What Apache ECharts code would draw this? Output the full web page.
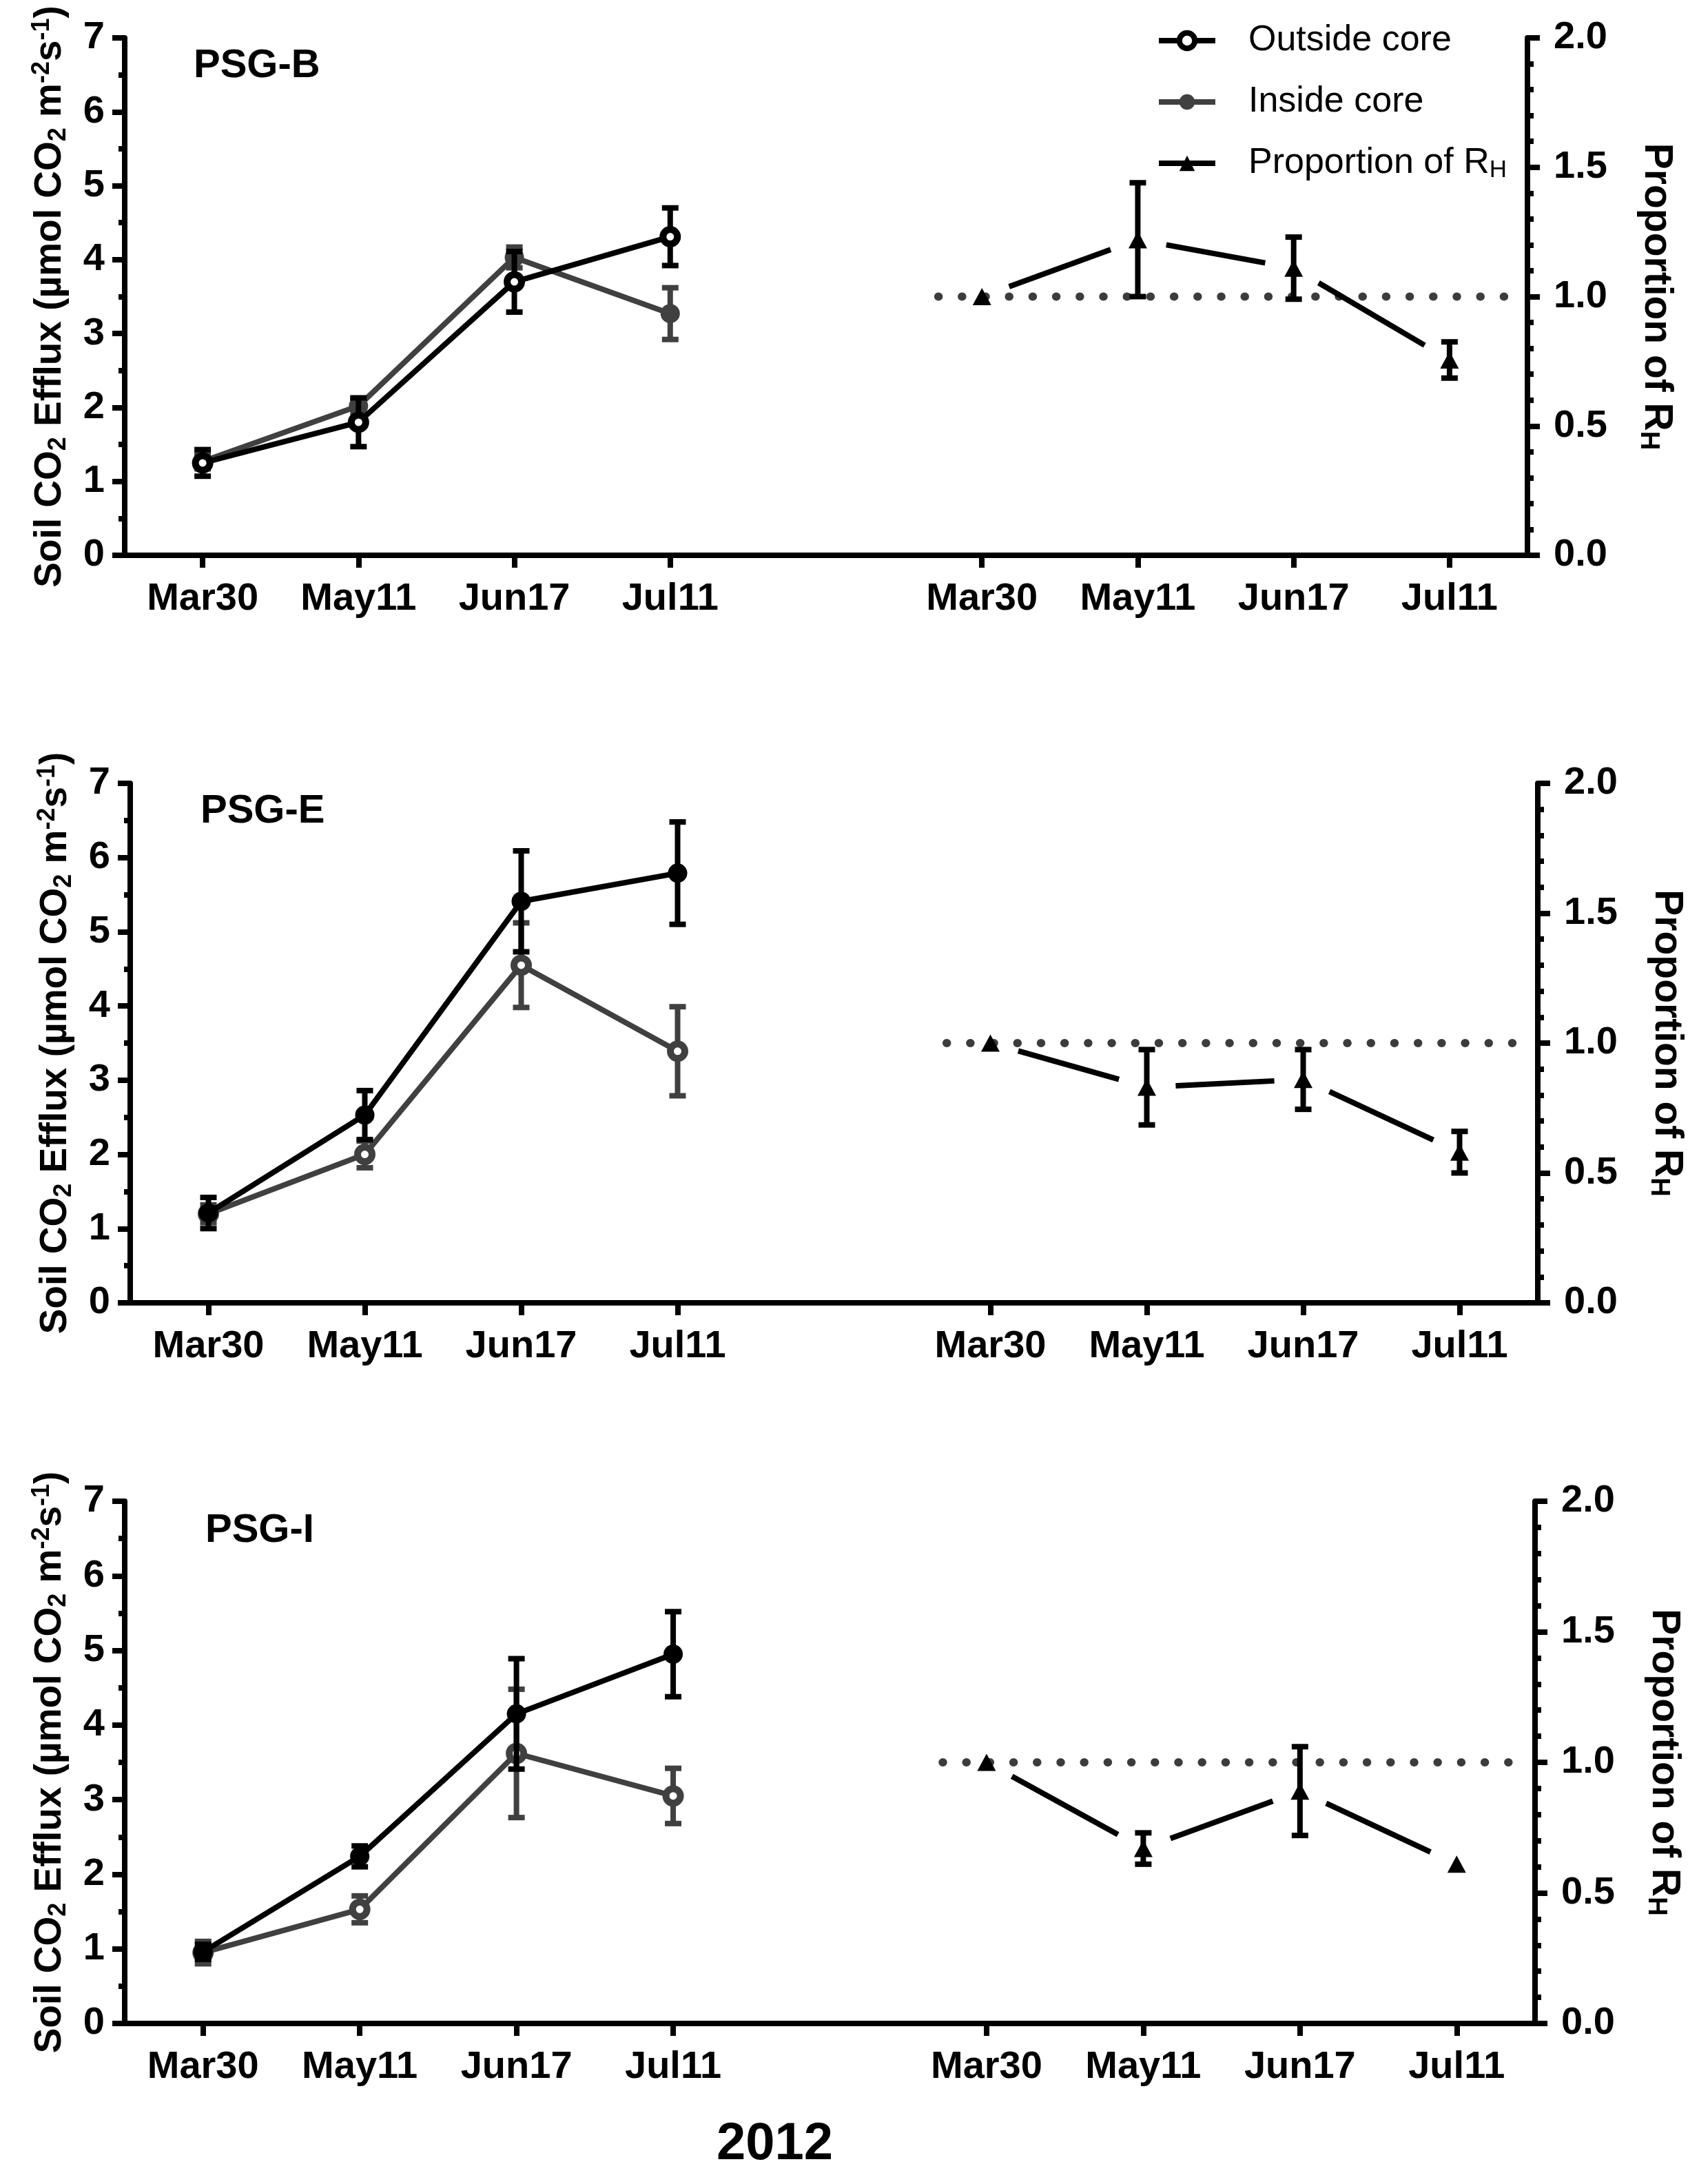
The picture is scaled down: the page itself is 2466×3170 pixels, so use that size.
<!DOCTYPE html>
<html><head><meta charset="utf-8">
<script src="https://cdn.jsdelivr.net/npm/echarts@6/dist/echarts.min.js"></script>
<style>html,body{margin:0;padding:0;background:#fff}#c{width:2466px;height:3170px}</style>
</head><body><div id="c"></div>
<script>
// ---------------- data ----------------
const categories = ['Mar30','May11','Jun17','Jul11','','Mar30','May11','Jun17','Jul11'];
const leftIdx = [0,1,2,3];
const rightIdx = [5,6,7,8];
const panelNames = ['PSG-B','PSG-E','PSG-I'];
const yearLabel = '2012';

const outsideB = [1.25, 1.80, 3.70, 4.31];
const outsideBErr = [0.18, 0.33, 0.41, 0.39];
const insideB = [1.27, 2.02, 4.03, 3.27];
const insideBErr = [0.10, 0.10, 0.14, 0.35];
const propB = [1.00, 1.22, 1.11, 0.755];
const propBErr = [0, 0.22, 0.12, 0.07];

const outsideE = [1.21, 2.53, 5.41, 5.79];
const outsideEErr = [0.21, 0.33, 0.68, 0.69];
const insideE = [1.20, 2.00, 4.55, 3.39];
const insideEErr = [0.12, 0.18, 0.57, 0.60];
const propE = [1.00, 0.83, 0.86, 0.58];
const propEErr = [0, 0.145, 0.115, 0.08];

const outsideI = [0.96, 2.24, 4.15, 4.95];
const outsideIErr = [0.10, 0.14, 0.74, 0.57];
const insideI = [0.95, 1.53, 3.62, 3.05];
const insideIErr = [0.15, 0.18, 0.86, 0.37];
const propI = [1.00, 0.67, 0.89, 0.61];
const propIErr = [0, 0.06, 0.17, 0];

const refLineX = [5.22, 8.89];   // extent of the reference line, in hidden 0..9 axis units
const refLineY = 1.0;

// ---------------- layout / style ----------------
const FONT = 'Liberation Sans, Arial, sans-serif';
const GRAY = '#404040';
const grids = [
  {left:181, top:55,   width:2036, height:751},
  {left:189, top:1137, width:2043, height:754},
  {left:181, top:2179, width:2047, height:758}
];
const titlePos = [{left:281, cy:96},{left:291, cy:1178},{left:298, cy:2222}];
// marker appearance per panel: [outsideOpen, insideOpen]
const markerOpen = [[true,false],[false,true],[false,true]];

const panels = [
  {out:outsideB, outErr:outsideBErr, inn:insideB, innErr:insideBErr, prop:propB, propErr:propBErr},
  {out:outsideE, outErr:outsideEErr, inn:insideE, innErr:insideEErr, prop:propE, propErr:propEErr},
  {out:outsideI, outErr:outsideIErr, inn:insideI, innErr:insideIErr, prop:propI, propErr:propIErr}
];

function errRender(color){
  return function(params, api){
    const x = api.value(0), lo = api.value(1), hi = api.value(2);
    const a = api.coord([x, lo]), b = api.coord([x, hi]);
    const w = 12, st = {stroke:color, lineWidth:8};
    return {type:'group', children:[
      {type:'line', shape:{x1:a[0],y1:a[1],x2:b[0],y2:b[1]}, style:st},
      {type:'line', shape:{x1:a[0]-w,y1:a[1],x2:a[0]+w,y2:a[1]}, style:st},
      {type:'line', shape:{x1:b[0]-w,y1:b[1],x2:b[0]+w,y2:b[1]}, style:st}
    ]};
  };
}
function segRender(params, api){
  const p0 = api.coord([api.value(0), api.value(1)]);
  const p1 = api.coord([api.value(2), api.value(3)]);
  const dx = p1[0]-p0[0], dy = p1[1]-p0[1];
  const len = Math.sqrt(dx*dx+dy*dy), gap = 42;
  const ux = dx/len, uy = dy/len;
  return {type:'line', shape:{x1:p0[0]+ux*gap, y1:p0[1]+uy*gap, x2:p1[0]-ux*gap, y2:p1[1]-uy*gap},
    style:{stroke:'#000', lineWidth:8}};
}

const axLine = {show:true, lineStyle:{color:'#000', width:8}};
const axTick = {show:true, length:18, lineStyle:{color:'#000', width:8}};
const labBold = {color:'#000', fontFamily:FONT, fontWeight:'bold', fontSize:56};

const xAxis = [], yAxis = [], series = [], title = [];
panels.forEach((P, p) => {
  xAxis.push({type:'category', gridIndex:p, data:categories, boundaryGap:true,
    axisLine:axLine,
    axisTick:{show:true, alignWithLabel:true, length:18, lineStyle:{color:'#000',width:8}, interval:(i,v)=>v!==''},
    axisLabel:Object.assign({margin:36, interval:0}, labBold),
    splitLine:{show:false}});
  xAxis.push({type:'value', gridIndex:p, min:0, max:9, show:false});
  yAxis.push({type:'value', gridIndex:p, position:'left', min:0, max:7, interval:1,
    axisLine:axLine, axisTick:axTick,
    minorTick:{show:true, splitNumber:2, length:9, lineStyle:{color:'#000', width:8}},
    axisLabel:Object.assign({margin:29}, labBold),
    splitLine:{show:false}, minorSplitLine:{show:false},
    name:'{a|Soil CO}{s|2}{a| Efflux (µmol CO}{s|2}{a| m}{p|-2}{a|s}{p|-1}{a|)}',
    nameLocation:'middle', nameGap:78, nameRotate:90,
    nameTextStyle:{rich:{
      a:{fontSize:55, fontWeight:'bold', fontFamily:FONT, color:'#000', lineHeight:60},
      s:{fontSize:36, fontWeight:'bold', fontFamily:FONT, color:'#000', lineHeight:28, verticalAlign:'bottom'},
      p:{fontSize:36, fontWeight:'bold', fontFamily:FONT, color:'#000', lineHeight:30, verticalAlign:'top'}
    }}});
  yAxis.push({type:'value', gridIndex:p, position:'right', min:0, max:2, interval:0.5,
    axisLine:axLine, axisTick:axTick,
    minorTick:{show:true, splitNumber:5, length:9, lineStyle:{color:'#000', width:8}},
    axisLabel:Object.assign({margin:38, formatter:v=>v.toFixed(1)}, labBold),
    splitLine:{show:false}, minorSplitLine:{show:false},
    name:'{a|Proportion of R}{s|H}', nameLocation:'middle', nameGap:156, nameRotate:-90,
    nameTextStyle:{rich:{
      a:{fontSize:57, fontWeight:'bold', fontFamily:FONT, color:'#000', lineHeight:62},
      s:{fontSize:38, fontWeight:'bold', fontFamily:FONT, color:'#000', lineHeight:28, verticalAlign:'bottom'}
    }}});

  const xi = 2*p, yl = 2*p, yr = 2*p+1;
  const [outOpen, inOpen] = markerOpen[p];
  const markStyle = (open, color) => open
    ? {color:'#fff', borderColor:color, borderWidth:10, opacity:1}
    : {color:color, borderWidth:0, opacity:1};

  series.push({type:'custom', xAxisIndex:xi, yAxisIndex:yl, z:2, silent:true,
    renderItem:errRender(GRAY), encode:{x:0, y:[1,2]},
    data:leftIdx.map((x,i)=>[x, P.inn[i]-P.innErr[i], P.inn[i]+P.innErr[i]])});
  series.push({type:'line', name:'Inside core', xAxisIndex:xi, yAxisIndex:yl, z:3,
    data:leftIdx.map((x,i)=>[x, P.inn[i]]),
    symbol:'circle', symbolSize:inOpen?21:28, itemStyle:markStyle(inOpen, GRAY),
    lineStyle:{color:GRAY, width:8}});
  series.push({type:'custom', xAxisIndex:xi, yAxisIndex:yl, z:4, silent:true,
    renderItem:errRender('#000'), encode:{x:0, y:[1,2]},
    data:leftIdx.map((x,i)=>[x, P.out[i]-P.outErr[i], P.out[i]+P.outErr[i]])});
  series.push({type:'line', name:'Outside core', xAxisIndex:xi, yAxisIndex:yl, z:5,
    data:leftIdx.map((x,i)=>[x, P.out[i]]),
    symbol:'circle', symbolSize:outOpen?21:28, itemStyle:markStyle(outOpen, '#000'),
    lineStyle:{color:'#000', width:8}});

  series.push({type:'line', xAxisIndex:2*p+1, yAxisIndex:yr, z:2, silent:true,
    data:[[refLineX[0], refLineY],[refLineX[1], refLineY]], symbol:'none',
    lineStyle:{color:'#3c3c3c', width:12, type:[0.5, 33.7], cap:'round'}});
  const segs = [];
  for (let i=0;i<rightIdx.length-1;i++) segs.push([rightIdx[i], P.prop[i], rightIdx[i+1], P.prop[i+1]]);
  series.push({type:'custom', xAxisIndex:xi, yAxisIndex:yr, z:3, silent:true,
    renderItem:segRender, encode:{x:[0,2], y:[1,3]}, data:segs});
  series.push({type:'custom', xAxisIndex:xi, yAxisIndex:yr, z:4, silent:true,
    renderItem:errRender('#000'), encode:{x:0, y:[1,2]},
    data:rightIdx.map((x,i)=>[x, P.prop[i]-P.propErr[i], P.prop[i]+P.propErr[i]]).filter((d,i)=>P.propErr[i]>0)});
  series.push({type:'line', name:'Proportion of RH', xAxisIndex:xi, yAxisIndex:yr, z:5,
    data:rightIdx.map((x,i)=>[x, P.prop[i]]),
    symbol:'triangle', symbolSize:[27,25], itemStyle:{color:'#000'},
    lineStyle:{color:'#000', width:8, opacity:0}});

  title.push({text:panelNames[p], left:titlePos[p].left, top:titlePos[p].cy-32, padding:0,
    textStyle:{fontFamily:FONT, fontWeight:'bold', fontSize:58, lineHeight:64, color:'#000'}});
});

const chart = echarts.init(document.getElementById('c'), null, {renderer:'canvas'});
chart.setOption({
  backgroundColor:'#fff',
  animation:false,
  title:title,
  grid:grids.map(g=>Object.assign({containLabel:false}, g)),
  xAxis:xAxis, yAxis:yAxis, series:series,
  legend:{orient:'vertical', left:1673, top:26, itemWidth:82, itemHeight:28, itemGap:33,
    selectedMode:false,
    data:[
      {name:'Outside core', itemStyle:{borderWidth:8}},
      {name:'Inside core'},
      {name:'Proportion of RH', lineStyle:{opacity:1, width:8, color:'#000'}}
    ],
    lineStyle:{width:8},
    formatter:n => n==='Proportion of RH' ? '{a|Proportion of R}{s|H}' : n,
    textStyle:{fontFamily:FONT, fontSize:52, color:'#000', lineHeight:56, padding:[0,0,0,43],
      rich:{
        a:{fontFamily:FONT, fontSize:52, color:'#000', lineHeight:56},
        s:{fontFamily:FONT, fontSize:35, color:'#000', lineHeight:28, verticalAlign:'bottom'}
      }}},
  graphic:[{type:'text', left:1122-82, top:3117-42,
    style:{text:yearLabel, fontFamily:FONT, fontWeight:'bold', fontSize:76, fill:'#000'}}]
});
</script></body></html>
